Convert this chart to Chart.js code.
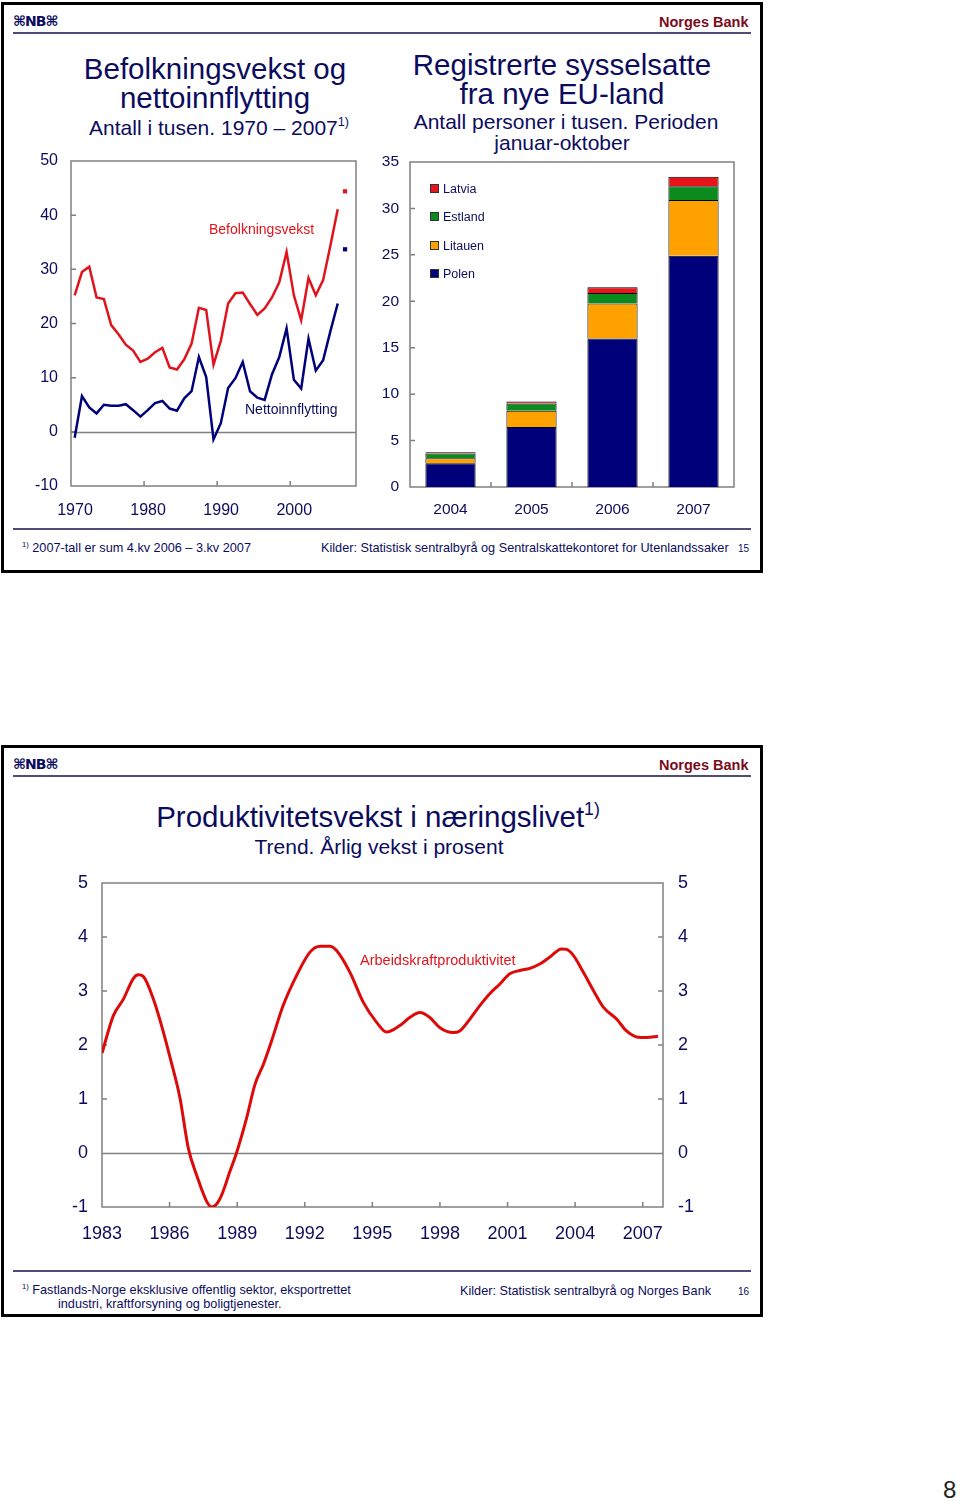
<!DOCTYPE html>
<html>
<head>
<meta charset="utf-8">
<script src="https://cdn.jsdelivr.net/npm/chart.js@4.4.1/dist/chart.umd.min.js"></script>
<style>
  body { margin: 0; width: 960px; height: 1501px; position: relative; overflow: hidden; background: #fff;
         font-family: "Liberation Sans", Arial, sans-serif; color: #0c0c5e; }
  .abs { position: absolute; white-space: nowrap; line-height: 1; }
  .ctr { text-align: center; width: 600px; }
  .slide { position: absolute; left: 1px; width: 762px; border: 3px solid #000; box-sizing: border-box; }
  .hline { position: absolute; left: 13px; width: 738px; height: 2px; background: #4d4d78; }
  .logo { font-family: "DejaVu Sans", sans-serif; font-weight: bold; font-size: 14px; color: #0c0c5e; letter-spacing: -1px; }
  .bank { font-weight: bold; font-size: 14.5px; color: #7a0c1c; }
  .title { font-size: 29.5px; }
  .sub { font-size: 21px; }
  .note { font-size: 12.7px; }
  sup { font-size: 0.6em; line-height: 0; vertical-align: 0.7em; }
  canvas { position: absolute; }
  .leg { font-size: 12.5px; }
  .leg i { display: inline-block; width: 7px; height: 7px; border: 1px solid #333; margin-right: 4px; vertical-align: 0; }
</style>
</head>
<body>

<!-- slide 15 -->
<div class="slide" style="top:2px;height:571px"></div>
<div class="abs logo" style="left:13px;top:14px">⌘NB⌘</div>
<div class="abs bank" style="left:659px;top:15px">Norges Bank</div>
<div class="hline" style="top:32px"></div>

<div class="abs ctr title" style="left:-85px;top:54px">Befolkningsvekst og</div>
<div class="abs ctr title" style="left:-85px;top:83px">nettoinnflytting</div>
<div class="abs ctr sub" style="left:-81px;top:117px">Antall i tusen. 1970 – 2007<sup>1)</sup></div>

<div class="abs ctr title" style="left:262px;top:50px">Registrerte sysselsatte</div>
<div class="abs ctr title" style="left:262px;top:79px">fra nye EU-land</div>
<div class="abs ctr sub" style="left:266px;top:111px">Antall personer i tusen. Perioden</div>
<div class="abs ctr sub" style="left:262px;top:132px">januar-oktober</div>

<canvas id="popChart" width="350" height="375" style="left:20px;top:150px"></canvas>
<canvas id="euChart" width="380" height="370" style="left:370px;top:150px"></canvas>

<div class="abs" style="left:209px;top:222px;font-size:14px;color:#e0141c">Befolkningsvekst</div>
<div class="abs" style="left:245px;top:402px;font-size:14px;color:#0c0c5e">Nettoinnflytting</div>

<div class="abs leg" style="left:430px;top:183px"><i style="background:#e8141c"></i>Latvia</div>
<div class="abs leg" style="left:430px;top:211px"><i style="background:#0b8a1e"></i>Estland</div>
<div class="abs leg" style="left:430px;top:240px"><i style="background:#ffa200"></i>Litauen</div>
<div class="abs leg" style="left:430px;top:268px"><i style="background:#00007a"></i>Polen</div>

<div class="hline" style="top:528px"></div>
<div class="abs note" style="left:22px;top:542px"><sup>1)</sup> 2007-tall er sum 4.kv 2006 – 3.kv 2007</div>
<div class="abs note" style="left:321px;top:542px">Kilder: Statistisk sentralbyrå og Sentralskattekontoret for Utenlandssaker</div>
<div class="abs" style="left:738px;top:544px;font-size:10px">15</div>

<!-- slide 16 -->
<div class="slide" style="top:745px;height:572px"></div>
<div class="abs logo" style="left:13px;top:757px">⌘NB⌘</div>
<div class="abs bank" style="left:659px;top:758px">Norges Bank</div>
<div class="hline" style="top:775px"></div>

<div class="abs ctr title" style="left:78px;top:802px">Produktivitetsvekst i næringslivet<sup>1)</sup></div>
<div class="abs ctr sub" style="left:79px;top:836px">Trend. Årlig vekst i prosent</div>

<canvas id="prodChart" width="700" height="390" style="left:40px;top:870px"></canvas>
<div class="abs" style="left:360px;top:953px;font-size:14.5px;color:#e0141c">Arbeidskraftproduktivitet</div>

<div class="hline" style="top:1270px"></div>
<div class="abs note" style="left:22px;top:1284px"><sup>1)</sup> Fastlands-Norge eksklusive offentlig sektor, eksportrettet</div>
<div class="abs note" style="left:58px;top:1298px">industri, kraftforsyning og boligtjenester.</div>
<div class="abs note" style="left:460px;top:1285px">Kilder: Statistisk sentralbyrå og Norges Bank</div>
<div class="abs" style="left:738px;top:1287px;font-size:10px">16</div>

<div class="abs" style="left:943px;top:1478px;font-size:24px;color:#222">8</div>

<script>
// befolkningsvekst og nettoinnflytting, tusen
const popYears = [1970, 1971, 1972, 1973, 1974, 1975, 1976, 1977, 1978, 1979,
                  1980, 1981, 1982, 1983, 1984, 1985, 1986, 1987, 1988, 1989,
                  1990, 1991, 1992, 1993, 1994, 1995, 1996, 1997, 1998, 1999,
                  2000, 2001, 2002, 2003, 2004, 2005, 2006];
const befolkning = [25.2, 29.5, 30.5, 24.8, 24.5, 19.7, 18.0, 16.1, 15.0, 12.9,
                    13.5, 14.7, 15.5, 11.9, 11.5, 13.4, 16.3, 22.9, 22.5, 12.4,
                    16.8, 23.7, 25.6, 25.7, 23.6, 21.6, 22.8, 24.8, 27.6, 33.2,
                    25.2, 20.6, 28.4, 25.2, 28.0, 34.4, 41.1];
const netto = [-1.1, 6.6, 4.5, 3.4, 5.0, 4.8, 4.8, 5.1, 4.0, 2.8,
               4.0, 5.3, 5.7, 4.3, 3.9, 6.2, 7.5, 13.8, 10.1, -1.4,
               1.6, 8.1, 9.9, 12.9, 7.5, 6.3, 5.9, 10.6, 13.8, 19.1,
               9.6, 8.0, 17.2, 11.3, 13.2, 18.6, 23.7];
const lastYear = 2007;
const befolkningLast = 44.4;
const nettoLast = 33.7;

// sysselsatte fra nye EU-land, tusen
const euYears = ['2004', '2005', '2006', '2007'];
const polen = [2.55, 6.45, 16.0, 24.9];
const litauen = [0.55, 1.75, 3.75, 6.0];
const estland = [0.5, 0.8, 1.15, 1.5];
const latvia = [0.15, 0.2, 0.6, 1.0];

// arbeidskraftproduktivitet, trend, prosent
const prodYears = [1983.0, 1983.5, 1983.95, 1984.39, 1984.61, 1984.83, 1985.28, 1985.73, 1986.02, 1986.46,
                   1986.83, 1987.2, 1987.65, 1987.87, 1988.06, 1988.31, 1988.68, 1988.97, 1989.42, 1989.79,
                   1990.16, 1990.53, 1991.04, 1991.64, 1992.23, 1992.69, 1993.12, 1993.41, 1994.0, 1994.6,
                   1995.19, 1995.63, 1996.22, 1996.66, 1997.11, 1997.55, 1998.0, 1998.58, 1998.88, 1999.33,
                   1999.77, 2000.21, 2000.66, 2001.1, 2001.55, 2001.99, 2002.43, 2002.88, 2003.4, 2003.62,
                   2003.92, 2004.36, 2004.81, 2005.25, 2005.84, 2006.28, 2006.73, 2007.17, 2007.68];
const prodValues = [1.85, 2.54, 2.85, 3.23, 3.30, 3.27, 2.85, 2.23, 1.77, 1.02,
                    0.09, -0.41, -0.90, -1.0, -0.96, -0.78, -0.34, 0.0, 0.65, 1.27,
                    1.64, 2.08, 2.73, 3.29, 3.72, 3.83, 3.83, 3.75, 3.35, 2.79,
                    2.42, 2.24, 2.36, 2.51, 2.60, 2.51, 2.32, 2.23, 2.26, 2.48,
                    2.73, 2.95, 3.13, 3.32, 3.38, 3.42, 3.50, 3.63, 3.78, 3.77,
                    3.66, 3.35, 3.01, 2.70, 2.48, 2.26, 2.15, 2.14, 2.16];

const RED = '#e0141c';
const NAVY = '#00007a';
const TXT = '#0c0c5e';
const AXIS = '#808080';

Chart.defaults.font.family = '"Liberation Sans", Arial, sans-serif';
Chart.defaults.color = TXT;

// grey frame round the plot, inside tick marks, zero line
const framePlugin = {
  id: 'frame',
  beforeDatasetsDraw(chart, args, opts) {
    const { ctx, chartArea: a, scales } = chart;
    ctx.save();
    ctx.strokeStyle = AXIS;
    ctx.lineWidth = 1.5;
    ctx.strokeRect(a.left, a.top, a.width, a.height);
    ctx.beginPath();
    if (opts.zero) {
      const y0 = Math.round(scales.y.getPixelForValue(0)) + 0.5;
      ctx.moveTo(a.left, y0);
      ctx.lineTo(a.right, y0);
    }
    (opts.yTicks || []).forEach(v => {
      const y = scales.y.getPixelForValue(v);
      ctx.moveTo(a.left, y);
      ctx.lineTo(a.left + 5, y);
      if (opts.rightTicks) {
        ctx.moveTo(a.right - 5, y);
        ctx.lineTo(a.right, y);
      }
    });
    let xs = [];
    if (opts.categoryGaps) {
      for (let i = 0; i < scales.x.ticks.length - 1; i++) {
        xs.push((scales.x.getPixelForTick(i) + scales.x.getPixelForTick(i + 1)) / 2);
      }
    } else {
      xs = (opts.xTicks || []).map(v => scales.x.getPixelForValue(v));
    }
    xs.forEach(x => {
      ctx.moveTo(x, a.bottom);
      ctx.lineTo(x, a.bottom - 5);
    });
    ctx.stroke();
    ctx.restore();
  }
};

const plainTicks = (size, padding) => ({
  color: TXT, font: { size: size }, padding: padding, maxRotation: 0, autoSkip: false
});

// fixed axis width, and no extra room above/below for the end labels
const fixWidth = w => s => { s.width = w; s.paddingTop = 0; s.paddingBottom = 0; };

new Chart(document.getElementById('popChart'), {
  type: 'line',
  data: {
    datasets: [
      { data: popYears.map((y, i) => ({ x: y + 0.5, y: befolkning[i] })), borderColor: RED, borderWidth: 2.5, pointRadius: 0, tension: 0 },
      { data: popYears.map((y, i) => ({ x: y + 0.5, y: netto[i] })), borderColor: NAVY, borderWidth: 2.5, pointRadius: 0, tension: 0 },
      { data: [{ x: lastYear + 0.5, y: befolkningLast }], showLine: false, pointStyle: 'rect', pointRadius: 3, backgroundColor: RED, borderWidth: 0 },
      { data: [{ x: lastYear + 0.5, y: nettoLast }], showLine: false, pointStyle: 'rect', pointRadius: 3, backgroundColor: NAVY, borderWidth: 0 }
    ]
  },
  options: {
    responsive: false,
    animation: false,
    layout: { padding: { top: 11, right: 14, left: 0, bottom: 0 } },
    plugins: {
      legend: { display: false },
      tooltip: { enabled: false },
      frame: { zero: true, yTicks: [0, 10, 20, 30, 40], xTicks: [1980, 1990, 2000] }
    },
    scales: {
      x: {
        type: 'linear', min: 1970, max: 2009,
        grid: { display: false, drawTicks: false }, border: { display: false },
        ticks: { ...plainTicks(16, 15), stepSize: 10, includeBounds: false, labelOffset: 4, callback: v => String(v) },
        afterFit(s) { s.height = 39; }
      },
      y: {
        min: -10, max: 50,
        grid: { display: false, drawTicks: false }, border: { display: false },
        ticks: { ...plainTicks(16, 13), stepSize: 10 },
        afterFit: fixWidth(51)
      }
    }
  },
  plugins: [framePlugin]
});

const barSet = (label, data, color) => ({
  label, data, backgroundColor: color, borderColor: '#000', borderWidth: 1,
  barPercentage: 0.62, categoryPercentage: 1
});

new Chart(document.getElementById('euChart'), {
  type: 'bar',
  data: {
    labels: euYears,
    datasets: [
      barSet('Polen', polen, NAVY),
      barSet('Litauen', litauen, '#ffa200'),
      barSet('Estland', estland, '#0b8a1e'),
      barSet('Latvia', latvia, '#e8141c')
    ]
  },
  options: {
    responsive: false,
    animation: false,
    layout: { padding: { top: 12, right: 16, left: 0, bottom: 0 } },
    plugins: {
      legend: { display: false },
      tooltip: { enabled: false },
      frame: { yTicks: [5, 10, 15, 20, 25, 30], categoryGaps: true }
    },
    scales: {
      x: {
        stacked: true,
        grid: { display: false, drawTicks: false }, border: { display: false },
        ticks: plainTicks(15.5, 13),
        afterFit(s) { s.height = 33; }
      },
      y: {
        stacked: true, min: 0, max: 35,
        grid: { display: false, drawTicks: false }, border: { display: false },
        ticks: { ...plainTicks(15.5, 11), stepSize: 5 },
        afterFit: fixWidth(40)
      }
    }
  },
  plugins: [framePlugin]
});

new Chart(document.getElementById('prodChart'), {
  type: 'line',
  data: {
    datasets: [
      { data: prodYears.map((x, i) => ({ x: x, y: prodValues[i] })), borderColor: '#dd0a0a', borderWidth: 3,
        pointRadius: 0, cubicInterpolationMode: 'monotone' }
    ]
  },
  options: {
    responsive: false,
    animation: false,
    layout: { padding: { top: 13, right: 0, left: 0, bottom: 0 } },
    plugins: {
      legend: { display: false },
      tooltip: { enabled: false },
      frame: { zero: true, yTicks: [1, 2, 3, 4], rightTicks: true,
               xTicks: [1986, 1989, 1992, 1995, 1998, 2001, 2004, 2007] }
    },
    scales: {
      x: {
        type: 'linear', min: 1983, max: 2007.9,
        grid: { display: false, drawTicks: false }, border: { display: false },
        ticks: { ...plainTicks(18, 16), stepSize: 3, includeBounds: false, callback: v => String(v) },
        afterFit(s) { s.height = 53; }
      },
      y: {
        min: -1, max: 5,
        grid: { display: false, drawTicks: false }, border: { display: false },
        ticks: { ...plainTicks(18, 14), stepSize: 1 },
        afterFit: fixWidth(62)
      },
      y2: {
        position: 'right', min: -1, max: 5,
        grid: { display: false, drawTicks: false }, border: { display: false },
        ticks: { ...plainTicks(18, 15), stepSize: 1 },
        afterFit: fixWidth(77)
      }
    }
  },
  plugins: [framePlugin]
});
</script>
</body>
</html>
